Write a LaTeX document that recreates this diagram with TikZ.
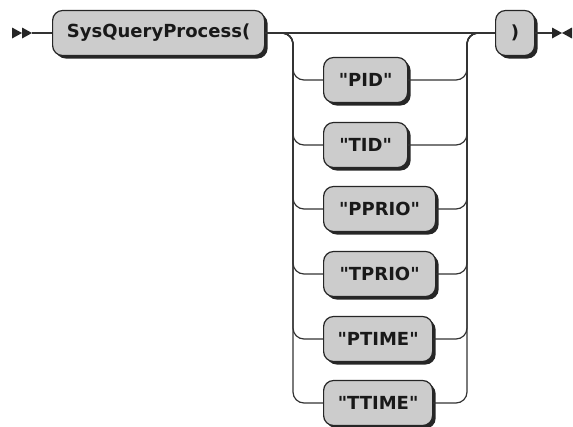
\documentclass[tikz,border=0pt]{standalone}
\usepackage{fontspec}
\setmainfont{DejaVu Sans}
\usepackage{tikz}
\usetikzlibrary{shadows}
\tikzset{every node/.append style={font=\fontsize{18}{21}\selectfont\bfseries}}
\newcommand{\qq}[1]{\textquotedbl#1\textquotedbl}
\tikzset{
  term/.style={draw=black!85, line width=1.2pt, fill=black!20, text=black!90,
    rounded corners=10pt, minimum height=45pt, inner xsep=0pt, anchor=west,
    drop shadow={shadow xshift=3pt, shadow yshift=-3pt, fill=black!85, opacity=1}},
  rail/.style={draw=black!80, line width=1.2pt, rounded corners=11pt},
  tip/.style={fill=black!85}
}

\begin{document}
\begin{tikzpicture}[x=1pt, y=-1pt]
    \useasboundingbox (0,0) rectangle (573,426);
    \coordinate (start) at (32,33);
    \coordinate (stop) at (552,33);
    \coordinate (lsplit) at (293,33);
    \coordinate (rjoin) at (467,33);
    \node[term, minimum width=212pt] (sysq) at (52,33) {SysQueryProcess(};
    \node[term, minimum width=39pt] (rparen) at (495,33) {)};
    \node[term, minimum width=84pt] (pid) at (323,80) {\qq{PID}};
    \node[term, minimum width=84pt] (tid) at (323,145) {\qq{TID}};
    \node[term, minimum width=112pt] (pprio) at (323,209) {\qq{PPRIO}};
    \node[term, minimum width=112pt] (tprio) at (323,274) {\qq{TPRIO}};
    \node[term, minimum width=109pt] (ptime) at (323,339) {\qq{PTIME}};
    \node[term, minimum width=109pt] (ttime) at (323,403) {\qq{TTIME}};
    % start and end marks
    \fill[tip] (12,27.5) -- (22,33) -- (12,38.5) -- cycle;
    \fill[tip] (22,27.5) -- (start) -- (22,38.5) -- cycle;
    \fill[tip] (stop) ++(0,-5.5) -- (562,33) -- (552,38.5) -- cycle;
    \fill[tip] (572,27.5) -- (562,33) -- (572,38.5) -- cycle;
    % main line
    \draw[rail] (start) -- (sysq.west);
    \draw[rail] (sysq.east) -- (rparen.west);
    \draw[rail] (rparen.east) -- (stop);
    % choices
    \foreach \n in {pid,tid,pprio,tprio,ptime,ttime} {
        \draw[rail] (sysq.east) -| (lsplit |- \n.west) -- (\n.west);
        \draw[rail] (\n.east) -| (rjoin) -- (rparen.west);
    }
\end{tikzpicture}
\end{document}
